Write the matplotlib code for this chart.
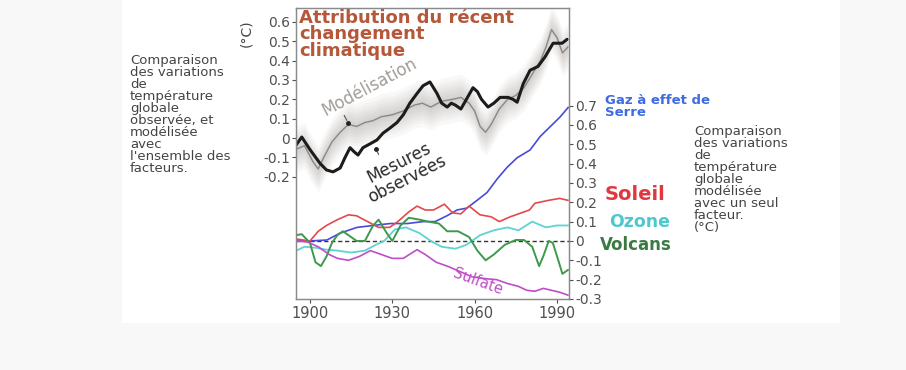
import numpy as np
import matplotlib.pyplot as plt
from matplotlib.patches import Rectangle

# valeurs (deg C)
obs_years = [1894.5, 1897, 1900, 1903.6, 1906, 1908.4, 1911, 1912.8, 1914.6, 1916, 1917.5,
             1919.3, 1921.9, 1924.4, 1926.6, 1929, 1931.7, 1934, 1936.4, 1939, 1941.2, 1943.7,
             1946.3, 1948, 1950, 1951.5, 1953, 1955, 1957, 1959.4, 1961, 1962.5, 1964.9,
             1967, 1969.3, 1972.2, 1974, 1975.5, 1977.7, 1980.2, 1983.1, 1985.7, 1988.6,
             1991.9, 1993.7]
obs_vals = [-0.045, 0.005, -0.06, -0.13, -0.165, -0.175, -0.155, -0.1, -0.05, -0.07, -0.088,
            -0.05, -0.03, -0.01, 0.025, 0.05, 0.08, 0.12, 0.18, 0.23, 0.27, 0.29,
            0.23, 0.18, 0.16, 0.18, 0.17, 0.15, 0.2, 0.26, 0.24, 0.2, 0.16,
            0.18, 0.21, 0.21, 0.2, 0.185, 0.28, 0.35, 0.37, 0.42, 0.49,
            0.49, 0.51]

mod_years = [1894.5, 1898, 1901, 1903, 1905, 1908, 1911, 1914, 1917, 1920, 1923, 1926, 1930,
             1934, 1938, 1941, 1944, 1948, 1952, 1955, 1958, 1960, 1962, 1964, 1966, 1969,
             1972, 1975, 1978, 1981, 1984, 1986, 1988, 1990, 1992, 1994]
mod_vals = [-0.06, -0.04, -0.12, -0.16, -0.1, -0.02, 0.03, 0.07, 0.06, 0.08, 0.09, 0.11, 0.12,
            0.14, 0.17, 0.18, 0.16, 0.19, 0.2, 0.21, 0.18, 0.14, 0.06, 0.03, 0.07, 0.15,
            0.2, 0.22, 0.26, 0.33, 0.4, 0.47, 0.56, 0.52, 0.44, 0.47]

ghg_years = [1895.3, 1900, 1906.2, 1910.9, 1917.1, 1923, 1929.2, 1935.4, 1941.2, 1945.6, 1949.9,
             1953.6, 1957.2, 1960.9, 1964.5, 1968.2, 1971.8, 1975.5, 1980.2, 1983.9, 1987.5,
             1991.1, 1994.1]
ghg_vals = [0.0, 0.0, 0.005, 0.04, 0.07, 0.08, 0.09, 0.09, 0.1, 0.1, 0.13,
            0.16, 0.17, 0.21, 0.25, 0.32, 0.38, 0.43, 0.47, 0.54, 0.59,
            0.64, 0.69]

sol_years = [1895, 1900, 1903, 1906, 1910, 1914, 1917, 1921, 1925, 1929, 1932, 1936, 1939, 1942,
             1945, 1949, 1952, 1955, 1958, 1962, 1966, 1969, 1973, 1977, 1980, 1982, 1987,
             1991, 1994]
sol_vals = [0.01, 0.0, 0.05, 0.08, 0.11, 0.135, 0.13, 0.1, 0.07, 0.07, 0.1, 0.15, 0.18, 0.16,
            0.16, 0.19, 0.145, 0.14, 0.18, 0.135, 0.125, 0.1, 0.125, 0.145, 0.16, 0.195, 0.21,
            0.22, 0.21]

oz_years = [1895, 1898, 1902, 1906, 1910, 1915, 1920, 1924, 1927, 1931, 1935, 1940, 1944, 1948,
            1953, 1957, 1962, 1967, 1972, 1976, 1981, 1986, 1990, 1994]
oz_vals = [-0.05, -0.03, -0.035, -0.045, -0.05, -0.06, -0.05, -0.02, 0.0, 0.06, 0.07, 0.04, 0.0,
           -0.03, -0.04, -0.02, 0.03, 0.055, 0.07, 0.055, 0.1, 0.07, 0.08, 0.08]

volc_years = [1895, 1897, 1900, 1902, 1904, 1906, 1908, 1910, 1912, 1915, 1917, 1920, 1923, 1925,
              1928, 1930, 1933, 1936, 1940, 1943, 1947, 1950, 1954, 1958, 1961, 1964, 1967,
              1971, 1975, 1978, 1981, 1983.5, 1985, 1987, 1988.5, 1990.5, 1992, 1994]
volc_vals = [0.03, 0.035, -0.01, -0.11, -0.13, -0.08, -0.01, 0.03, 0.05, 0.02, 0.0, 0.0, 0.08,
             0.11, 0.04, 0.0, 0.08, 0.12, 0.11, 0.1, 0.09, 0.05, 0.05, 0.02, -0.05, -0.1, -0.07,
             -0.02, 0.005, 0.005, -0.03, -0.13, -0.08, 0.0, -0.01, -0.1, -0.17, -0.15]

sulf_years = [1895, 1899, 1903, 1907, 1910, 1914, 1918, 1922, 1926, 1930, 1934, 1939, 1942, 1946,
              1950, 1955, 1959, 1964, 1968, 1972, 1976, 1979, 1982, 1985, 1988, 1991, 1994]
sulf_vals = [0.0, -0.005, -0.03, -0.07, -0.09, -0.1, -0.08, -0.05, -0.07, -0.09, -0.09, -0.045,
             -0.07, -0.11, -0.13, -0.16, -0.185, -0.195, -0.2, -0.22, -0.235, -0.255, -0.26,
             -0.245, -0.255, -0.265, -0.28]

left_ticks = [-0.2, -0.1, 0, 0.1, 0.2, 0.3, 0.4, 0.5, 0.6]
right_ticks = [-0.3, -0.2, -0.1, 0, 0.1, 0.2, 0.3, 0.4, 0.5, 0.6, 0.7]
year_ticks = [1900, 1930, 1960, 1990]

fig = plt.figure(figsize=(9.06, 3.70), dpi=100, facecolor='#f8f8f9')
fig.patches.append(Rectangle((122/906, 1-323/370), 718/906, 323/370, transform=fig.transFigure,
                             facecolor='white', edgecolor='none', zorder=-5))

ax = fig.add_axes([296/906, 1-299/370, 273/906, 291/370])
ax.set_facecolor('white')
ax.set_xlim(1894.9, 1994.4)
ax.set_ylim(-0.832, 0.672)

# halo gris de la modelisation
mv = np.array(mod_vals)
for w in [0.12, 0.1, 0.085, 0.07, 0.055, 0.04, 0.025, 0.012]:
    ax.fill_between(mod_years, mv - w, mv + w, color='#77716c', alpha=0.045, lw=0)
ax.plot(mod_years, mod_vals, color='#8d8782', lw=1.0, solid_joinstyle='round')
ax.plot(obs_years, obs_vals, color='#1c1c1c', lw=2.2, solid_capstyle='round',
        solid_joinstyle='round')

ax.set_yticks(left_ticks)
ax.set_yticklabels(['%g' % t for t in left_ticks])
ax.set_xticks(year_ticks)

ax2 = ax.twinx()
ax2.set_ylim(-0.30, 1.204)
ax2.axhline(0, color='#333333', lw=1.0, ls=(0, (3, 2)))
kw = dict(solid_joinstyle='round')
ax2.plot(ghg_years, ghg_vals, color='#4a4ad8', lw=1.2, **kw)
ax2.plot(sol_years, sol_vals, color='#e5484c', lw=1.2, **kw)
ax2.plot(oz_years, oz_vals, color='#5ed3d3', lw=1.3, **kw)
ax2.plot(volc_years, volc_vals, color='#3d9a4c', lw=1.4, **kw)
ax2.plot(sulf_years, sulf_vals, color='#c04cc8', lw=1.2, **kw)
ax2.set_yticks(right_ticks)
ax2.set_yticklabels(['%g' % t for t in right_ticks])

for a in (ax, ax2):
    for s in a.spines.values():
        s.set_color('#8a8a8a')
        s.set_linewidth(0.9)
    a.tick_params(axis='y', labelsize=10, colors='#505050', length=3, width=0.8, pad=1.5)
ax.tick_params(axis='x', labelsize=10.5, colors='#505050', length=3, width=0.8, pad=2)

# textes
ax.text(0.012, 0.997, 'Attribution du récent\nchangement\nclimatique', transform=ax.transAxes,
        ha='left', va='top', fontsize=13, fontweight='bold', color='#b5583a', linespacing=0.9)
ax.text(1921.5, 0.264, 'Modélisation', rotation=28, fontsize=12, color='#a39d98',
        ha='center', va='center', rotation_mode='anchor')
ax.annotate('', xy=(1913.9, 0.078), xytext=(1912, 0.13),
            arrowprops=dict(arrowstyle='-', color='#555555', lw=0.8))
ax.plot([1913.9], [0.078], marker='o', ms=2.5, color='#222222')
ax.text(1933.8, -0.17, 'Mesures\nobservées', rotation=27, fontsize=12, color='#2a2a2a',
        ha='center', va='center', linespacing=0.95, rotation_mode='anchor')
ax.annotate('', xy=(1924, -0.057), xytext=(1925.5, -0.098),
            arrowprops=dict(arrowstyle='-', color='#555555', lw=0.8))
ax.plot([1924], [-0.057], marker='o', ms=2.5, color='#222222')
ax2.text(1961.2, -0.212, 'Sulfate', rotation=-20, fontsize=10.5, color='#c04cc8',
         ha='center', va='center', rotation_mode='anchor')

fig.text(246/906, 1-33/370, '(°C)', rotation=90, fontsize=10, color='#444444',
         ha='center', va='center')
fig.text(130/906, 1-54/370, "Comparaison\ndes variations\nde\ntempérature\nglobale\nobservée, et\n"
         "modélisée\navec\nl'ensemble des\nfacteurs.", fontsize=9.5, color='#444444',
         ha='left', va='top', linespacing=0.9)
fig.text(694/906, 1-125/370, "Comparaison\ndes variations\nde\ntempérature\nglobale\nmodélisée\n"
         "avec un seul\nfacteur.\n(°C)", fontsize=9.5, color='#444444',
         ha='left', va='top', linespacing=0.9)

fig.text(605/906, 1-94/370, 'Gaz à effet de\nSerre', fontsize=9.5, fontweight='bold',
         color='#3f6ae0', ha='left', va='top', linespacing=0.95)
fig.text(605/906, 1-195/370, 'Soleil', fontsize=14, fontweight='bold', color='#e0383e',
         ha='left', va='center')
fig.text(609/906, 1-222/370, 'Ozone', fontsize=12.5, fontweight='bold', color='#4fc8cc',
         ha='left', va='center')
fig.text(600/906, 1-245/370, 'Volcans', fontsize=12, fontweight='bold', color='#3c7a44',
         ha='left', va='center')

fig.savefig('out.png', dpi=100, facecolor=fig.get_facecolor())
